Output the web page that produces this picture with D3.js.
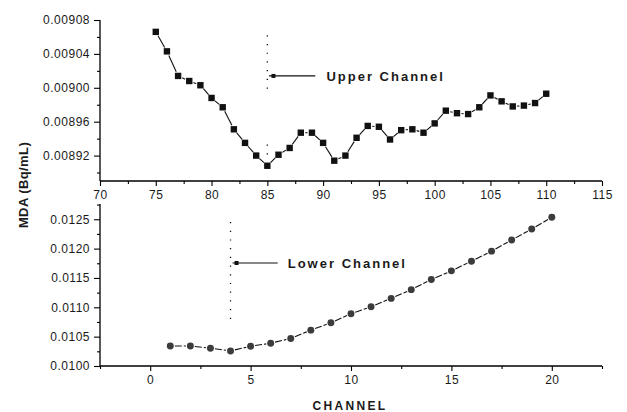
<!DOCTYPE html>
<html><head><meta charset="utf-8">
<script src="https://cdn.jsdelivr.net/npm/d3@7"></script>
<style>
html,body{margin:0;padding:0;background:#fff;}
svg text{font-family:Arial,"Liberation Sans",sans-serif;fill:#1a1a1a;}
</style></head>
<body><svg id="c" width="627" height="412"></svg>
<script>
// Upper channel data (channel 75..110)
const upperChannels = [75,76,77,78,79,80,81,82,83,84,85,86,87,88,89,90,91,92,93,94,95,96,97,98,99,100,101,102,103,104,105,106,107,108,109,110];
const upperMDA = [0.009066,0.009043,0.009014,0.009008,0.009003,0.008988,0.008977,0.008951,0.008935,0.008920,0.008908,0.008921,0.008929,0.008947,0.008947,0.008935,0.008914,0.008920,0.008941,0.008955,0.008954,0.008939,0.008950,0.008951,0.008947,0.008958,0.008973,0.008970,0.008969,0.008977,0.008991,0.008984,0.008978,0.008979,0.008982,0.008993];
// Lower channel data (channel 1..20)
const lowerChannels = [1,2,3,4,5,6,7,8,9,10,11,12,13,14,15,16,17,18,19,20];
const lowerMDA = [0.010342,0.010342,0.010303,0.010257,0.010337,0.010389,0.010468,0.010611,0.010736,0.010890,0.011010,0.011152,0.011301,0.011473,0.011621,0.011786,0.011957,0.012146,0.012334,0.012534];
// Tick labels
const upperXTicks = [70,75,80,85,90,95,100,105,110,115];
const upperYTicks = [0.00892,0.00896,0.00900,0.00904,0.00908];
const lowerXTicks = [0,5,10,15,20];
const lowerYTicks = [0.0100,0.0105,0.0110,0.0115,0.0120,0.0125];
const yTitle = "MDA (Bq/mL)";
const xTitle = "CHANNEL";

const svg = d3.select("#c");

const xTop = d3.scaleLinear().domain([70,115]).range([100,602]);
const yTop = d3.scaleLinear().domain([0.00889,0.00908]).range([181,20]);
const xBot = d3.scaleLinear().domain([-2.5,22.5]).range([100,602]);
const yBot = d3.scaleLinear().domain([0.0100,0.01276]).range([366,204]);

function drawAxes(x, y, xTicks, yTicks, xMinor, yMinor, yFmt) {
  const [x0,x1] = x.range();
  const [yb,yt] = y.range();
  const g = svg.append("g");
  g.append("line").attr("x1",x0).attr("x2",x0).attr("y1",yt).attr("y2",yb).attr("stroke","#000").attr("stroke-width",1.3);
  g.append("line").attr("x1",x0).attr("x2",x1).attr("y1",yb).attr("y2",yb).attr("stroke","#000").attr("stroke-width",1.3);
  const xa = d3.axisBottom(x).tickValues(xTicks).tickSize(5).tickPadding(4).tickFormat(d3.format("d"));
  const xg = g.append("g").attr("transform",`translate(0,${yb})`).call(xa);
  xg.select(".domain").remove();
  xg.selectAll(".tick line").attr("stroke","#000").attr("stroke-width",1.1);
  xg.selectAll("text").attr("font-size",12).style("letter-spacing","0.5px").attr("fill","#1a1a1a");
  const xm = d3.axisBottom(x).tickValues(xMinor).tickSize(3).tickFormat("");
  const xmg = g.append("g").attr("transform",`translate(0,${yb})`).call(xm);
  xmg.select(".domain").remove();
  xmg.selectAll(".tick line").attr("stroke","#000").attr("stroke-width",1.1);
  const ya = d3.axisLeft(y).tickValues(yTicks).tickSize(6).tickPadding(4).tickFormat(yFmt);
  const yg = g.append("g").attr("transform",`translate(${x0},0)`).call(ya);
  yg.select(".domain").remove();
  yg.selectAll(".tick line").attr("stroke","#000").attr("stroke-width",1.1);
  yg.selectAll("text").attr("font-size",12).style("letter-spacing","0.5px").attr("fill","#1a1a1a");
  const ym = d3.axisLeft(y).tickValues(yMinor).tickSize(3).tickFormat("");
  const ymg = g.append("g").attr("transform",`translate(${x0},0)`).call(ym);
  ymg.select(".domain").remove();
  ymg.selectAll(".tick line").attr("stroke","#000").attr("stroke-width",1.1);
}

drawAxes(xTop, yTop, upperXTicks, upperYTicks,
  upperXTicks.slice(0,-1).map(d=>d+2.5),
  upperYTicks.map(d=>d-0.00002),
  d3.format(".5f"));
drawAxes(xBot, yBot, lowerXTicks, lowerYTicks,
  [-2.5].concat(lowerXTicks.map(d=>d+2.5)),
  lowerYTicks.map(d=>d+0.00025),
  d3.format(".4f"));

function drawSeries(xs, ys, x, y, gap, dash, marker) {
  const pts = xs.map((c,i)=>[x(c), y(ys[i])]);
  const g = svg.append("g");
  for (let i=0;i<pts.length-1;i++){
    const [ax,ay]=pts[i],[bx,by]=pts[i+1];
    const dx=bx-ax, dy=by-ay, L=Math.hypot(dx,dy);
    if (L<=2*gap) continue;
    const ux=dx/L, uy=dy/L;
    g.append("line").attr("x1",ax+ux*gap).attr("y1",ay+uy*gap)
      .attr("x2",bx-ux*gap).attr("y2",by-uy*gap)
      .attr("stroke","#111").attr("stroke-width",1.1)
      .attr("stroke-dasharray",dash);
  }
  if (marker==="square") {
    g.selectAll("rect").data(pts).join("rect")
      .attr("x",d=>d[0]-3.2).attr("y",d=>d[1]-3.2).attr("width",6.4).attr("height",6.4)
      .attr("fill","#111");
  } else {
    const sym = d3.symbol().type(d3.symbolCircle).size(38);
    g.selectAll("path.m").data(pts).join("path").attr("class","m")
      .attr("transform",d=>`translate(${d[0]},${d[1]})`).attr("d",sym)
      .attr("fill","#3c3c3c");
  }
}
drawSeries(upperChannels, upperMDA, xTop, yTop, 4.5, null, "square");
drawSeries(lowerChannels, lowerMDA, xBot, yBot, 4.5, "7,2", "circle");

function dotted(x1,y1,x2,y2){
  svg.append("line").attr("x1",x1).attr("x2",x2).attr("y1",y1).attr("y2",y2)
    .attr("stroke","#111").attr("stroke-width",1.3).attr("stroke-dasharray","1.2,7.5");
}
// Upper
dotted(xTop(85), yTop(0.009062), xTop(85), yTop(0.008995));
dotted(xTop(85), yTop(0.008933), xTop(85), yTop(0.008918));
svg.append("line").attr("x1",xTop(85.15)).attr("x2",xTop(89.3)).attr("y1",yTop(0.009014)).attr("y2",yTop(0.009014)).attr("stroke","#111").attr("stroke-width",1.2);
svg.append("rect").attr("x",xTop(85.55)-2).attr("y",yTop(0.009014)-2).attr("width",4).attr("height",4).attr("fill","#111");
svg.append("text").attr("x",xTop(90.3)).attr("y",yTop(0.009014)).attr("dy","0.36em")
  .attr("font-size",13).attr("font-weight","bold").style("letter-spacing","2px").text("Upper Channel");
// Lower
dotted(xBot(4), yBot(0.012453), xBot(4), yBot(0.010772));
svg.append("line").attr("x1",xBot(4.1)).attr("x2",xBot(6.35)).attr("y1",yBot(0.011755)).attr("y2",yBot(0.011755)).attr("stroke","#111").attr("stroke-width",1.2);
svg.append("rect").attr("x",xBot(4.3)-2).attr("y",yBot(0.011755)-2).attr("width",4).attr("height",4).attr("fill","#111");
svg.append("text").attr("x",xBot(6.85)).attr("y",yBot(0.011755)).attr("dy","0.36em")
  .attr("font-size",13).attr("font-weight","bold").style("letter-spacing","2px").text("Lower Channel");

svg.append("text").attr("transform","translate(23,185) rotate(-90)").attr("text-anchor","middle")
  .attr("dy","0.36em").attr("font-size",13).attr("font-weight","bold").style("letter-spacing","0.4px").text(yTitle);
svg.append("text").attr("x",350).attr("y",406).attr("text-anchor","middle").attr("dy","0.36em")
  .attr("font-size",12).attr("font-weight","bold").style("letter-spacing","2.3px").text(xTitle);
</script></body></html>
